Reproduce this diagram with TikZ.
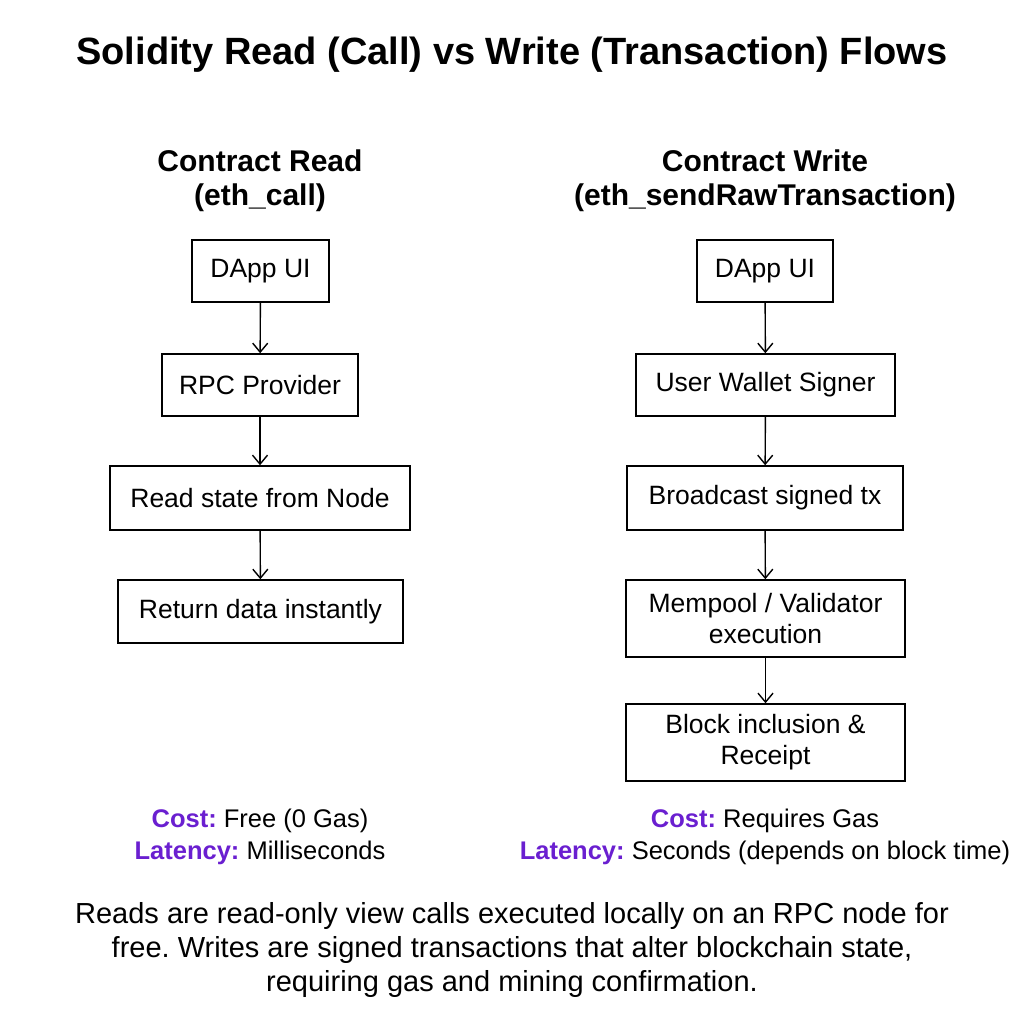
\documentclass[tikz,border=0pt]{standalone}
\usepackage{fontspec}
\usetikzlibrary{arrows.meta}
\setmainfont{Liberation Sans}
\definecolor{purp}{HTML}{6A1FD0}
\begin{document}
\frenchspacing
\begin{tikzpicture}[x=1pt,y=-1pt,
 box/.style={draw,line width=1.5pt,font=\fontsize{26.5}{31}\selectfont,align=center,inner sep=0pt},
 arr/.style={draw,line width=1.4pt,-{Straight Barb[length=9pt,width=15pt,line width=1.4pt]}},
 hdr/.style={font=\bfseries\fontsize{30}{34}\selectfont,align=center},
 info/.style={font=\fontsize{25.5}{32}\selectfont,align=center},
 lab/.style={text=purp,font=\bfseries}]
\useasboundingbox (0,0) rectangle (1024,1024);
\node[font=\bfseries\fontsize{38}{42}\selectfont] (title) at (512,55) {Solidity Read (Call) vs Write (Transaction) Flows};
\node[hdr] (hl) at (260,181) {Contract Read\\(eth\_call)};
\node[hdr] (hr) at (765,181) {Contract Write\\(eth\_sendRawTransaction)};
\node[box,minimum width=137,minimum height=62] (l1) at (260.5,271) {DApp UI};
\node[box,minimum width=196,minimum height=62] (l2) at (260,385) {RPC Provider};
\node[box,minimum width=300,minimum height=64] (l3) at (260,498) {Read state from Node};
\node[box,minimum width=285,minimum height=63] (l4) at (260.5,611.5) {Return data instantly};
\node[box,minimum width=136,minimum height=62] (r1) at (765,271) {DApp UI};
\node[box,minimum width=259,minimum height=62] (r2) at (765.5,385) {User Wallet Signer};
\node[box,minimum width=276,minimum height=64] (r3) at (765,498) {Broadcast signed tx};
\node[box,minimum width=279,minimum height=77] (r4) at (765.5,618.5) {Mempool / Validator\\execution};
\node[box,minimum width=279,minimum height=77] (r5) at (765.5,742.5) {Block inclusion \&\\Receipt};
\draw[arr] (l1)--(l2); \draw[arr] (l2)--(l3); \draw[arr] (l3)--(l4);
\draw[arr] (r1)--(r2); \draw[arr] (r2)--(r3); \draw[arr] (r3)--(r4); \draw[arr] (r4)--(r5);
\node[info] (cl) at (260,837) {\textcolor{purp}{\textbf{Cost:}} Free (0 Gas)\\\textcolor{purp}{\textbf{Latency:}} Milliseconds};
\node[info] (cr) at (765,837) {\textcolor{purp}{\textbf{Cost:}} Requires Gas\\\textcolor{purp}{\textbf{Latency:}} Seconds (depends on block time)};
\node[font=\fontsize{29}{34}\selectfont,align=center] (foot) at (512,950) {Reads are read-only view calls executed locally on an RPC node for\\free. Writes are signed transactions that alter blockchain state,\\requiring gas and mining confirmation.};
\end{tikzpicture}
\end{document}
